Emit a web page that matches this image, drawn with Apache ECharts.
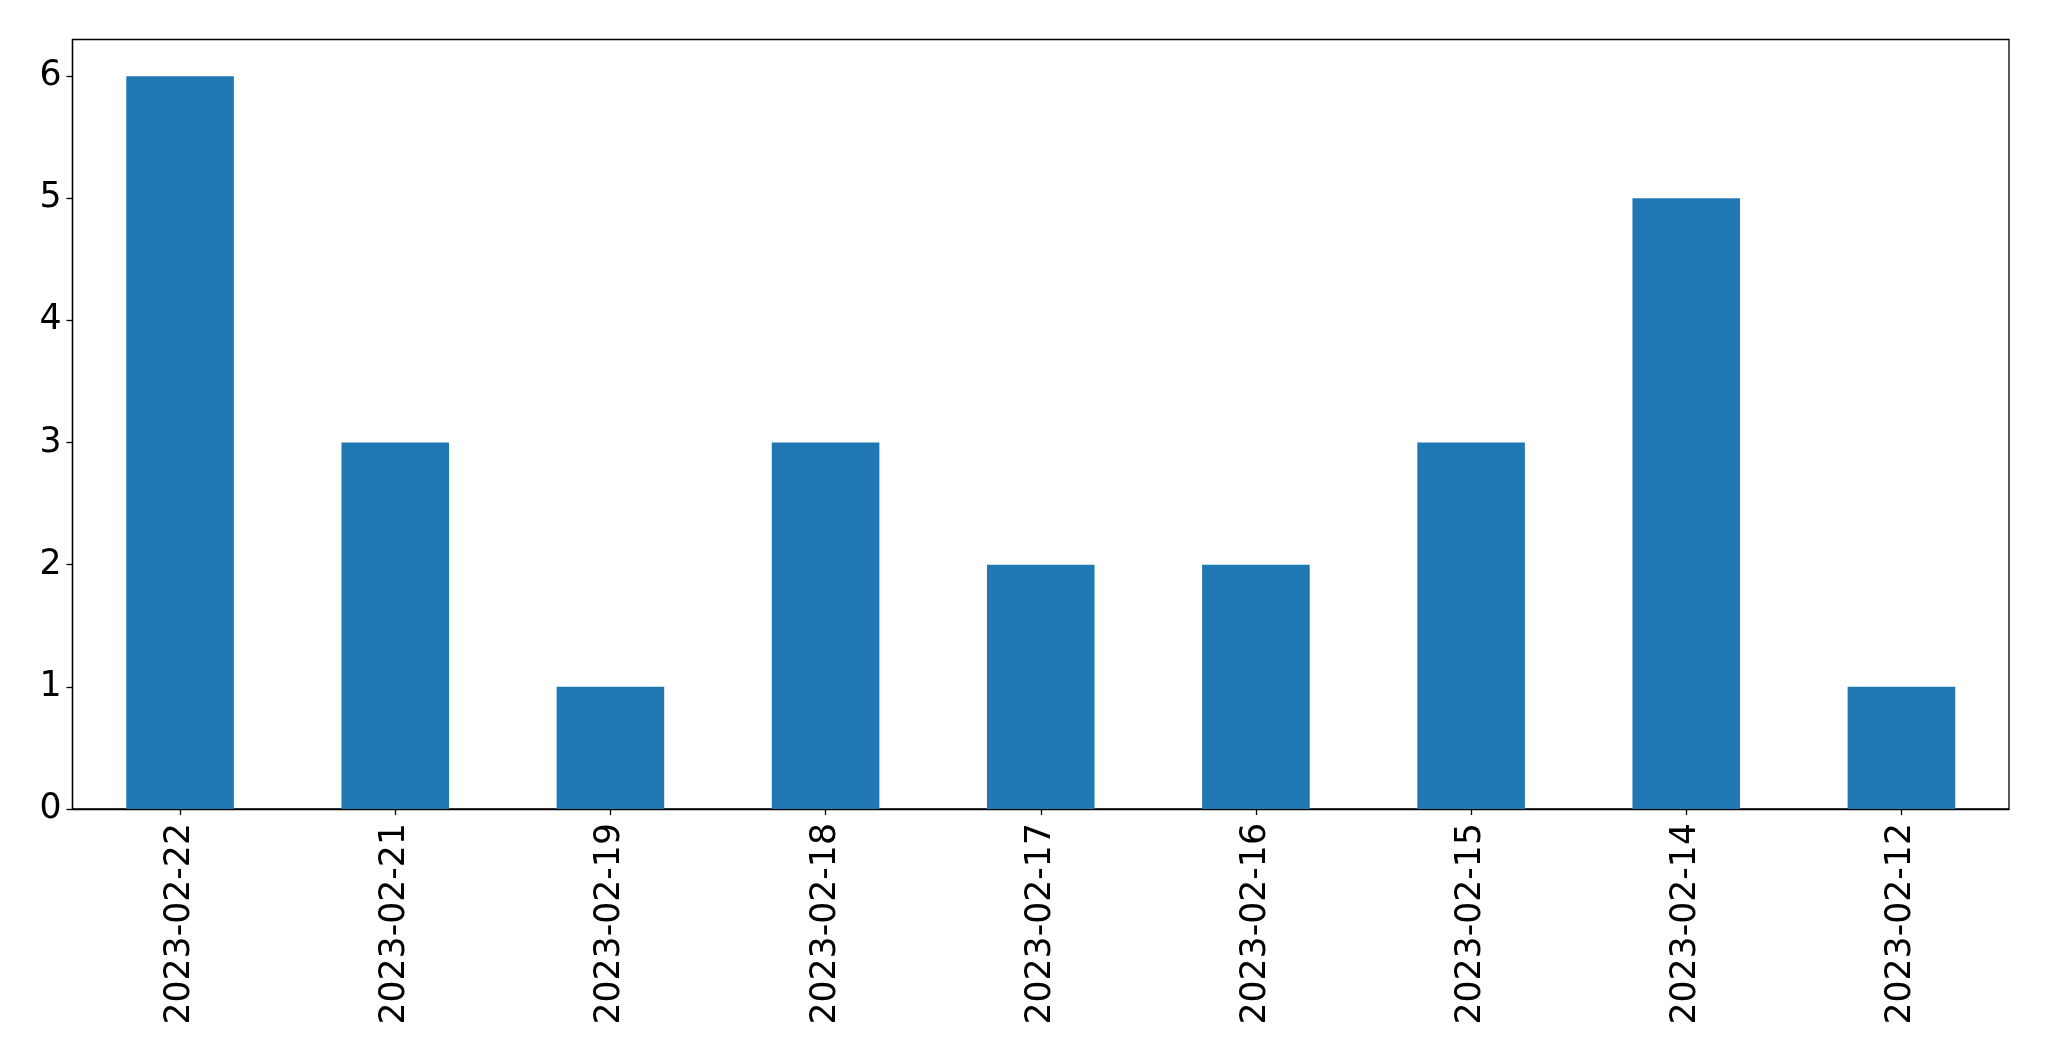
<!DOCTYPE html>
<html>
<head>
<meta charset="utf-8">
<script src="https://cdn.jsdelivr.net/npm/echarts@6/dist/echarts.min.js"></script>
<style>
html,body{margin:0;padding:0;background:#fff;}
#chart{width:2049px;height:1061px;}
</style>
</head>
<body>
<div id="chart"></div>
<script>
const categories = ["2023-02-22","2023-02-21","2023-02-19","2023-02-18","2023-02-17","2023-02-16","2023-02-15","2023-02-14","2023-02-12"];
const counts = [6,3,1,3,2,2,3,5,1];
const yTicks = [0,1,2,3,4,5,6];

const chart = echarts.init(document.getElementById('chart'), null, {renderer:'canvas'});
const font = 'DejaVu Sans';
chart.setOption({
  animation:false,
  backgroundColor:'#ffffff',
  grid:{left:72.5, right:40, top:39.5, bottom:252, show:true, borderColor:'#000', borderWidth:1.3, containLabel:false},
  xAxis:{
    type:'category',
    data:categories,
    axisLine:{show:true, lineStyle:{color:'#000', width:1.3}},
    axisTick:{show:true, alignWithLabel:true, length:6, lineStyle:{color:'#000', width:1.3}},
    axisLabel:{rotate:90, margin:14, color:'#000', fontFamily:font, fontSize:34.7},
    splitLine:{show:false}
  },
  yAxis:{
    type:'value',
    min:0, max:6.3, interval:1,
    axisLine:{show:true, lineStyle:{color:'#000', width:1.3}},
    axisTick:{show:true, length:6, customValues:yTicks, lineStyle:{color:'#000', width:1.3}},
    axisLabel:{customValues:yTicks, margin:11, padding:[6,0,0,0], color:'#000', fontFamily:font, fontSize:34.7},
    splitLine:{show:false}
  },
  series:[{
    type:'bar',
    data:counts,
    barWidth:'50%',
    itemStyle:{color:'#1f77b4'}
  }]
});
</script>
</body>
</html>
